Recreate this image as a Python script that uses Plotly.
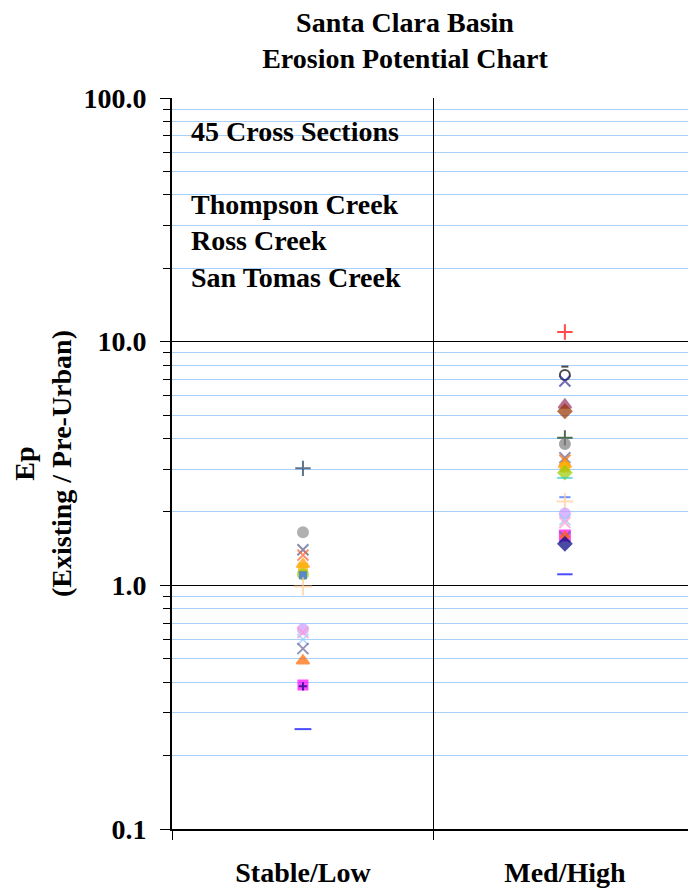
import plotly.graph_objects as go

categories = ["Stable/Low", "Med/High"]

# Stable/Low points (Ep values)
low_values = [3.02, 1.65, 1.40, 1.33, 1.22, 1.18, 1.11, 1.10, 0.99,
              0.66, 0.64, 0.60, 0.55, 0.49, 0.39, 0.385, 0.257]
# Med/High points (Ep values)
high_values = [10.96, 7.9, 7.3, 6.9, 5.5, 5.18, 4.03, 3.8, 3.34, 3.26,
               3.13, 3.05, 2.90, 2.76, 2.30, 2.21, 1.97, 1.86, 1.81,
               1.60, 1.58, 1.60, 1.48, 1.11]

y_tick_vals = [0.1, 1, 10, 100]
y_tick_text = ["0.1", "1.0", "10.0", "100.0"]

title_text = "Santa Clara Basin<br>Erosion Potential Chart"
y_title = "Ep<br>(Existing / Pre-Urban)"
note_text = "45 Cross Sections<br><br>Thompson Creek<br>Ross Creek<br>San Tomas Creek"

# marker styles (one per point)
low_symbols = ["cross-thin", "circle", "x-thin", "x-thin", "triangle-up", "square",
               "circle", "square", "cross-thin", "circle", "x-thin", "x-thin",
               "x-thin", "triangle-up", "square", "cross-thin", "line-ew"]
low_colors = ["#1F3A5F", "#909090", "#5A5A8C", "#FF6020", "#FF9900", "#FFB000",
              "#99CC00", "#3366FF", "#FFCC99", "#CC99FF", "#FF99CC", "#99CCFF",
              "#666699", "#FF6600", "#FF00FF", "#000080", "#0000FF"]
low_sizes = [11, 10, 11, 11, 11, 8, 10, 6, 13, 10, 11, 11, 11, 11, 9, 6, 12]

high_symbols = ["cross-thin", "line-ew", "circle-open", "x-thin", "triangle-up", "diamond",
                "cross-thin", "circle", "x-thin", "x-thin", "triangle-up", "square",
                "diamond", "line-ew", "line-ew", "cross-thin", "circle", "x-thin",
                "x-thin", "square", "x-thin", "triangle-up", "diamond", "line-ew"]
high_colors = ["#FF0000", "#000000", "#000000", "#333399", "#993366", "#993300",
               "#003300", "#808080", "#666699", "#FF6600", "#FF9900", "#FFB000",
               "#99CC00", "#33CCCC", "#3366FF", "#FFCC99", "#CC99FF", "#99CCFF",
               "#FF99CC", "#FF00FF", "#666699", "#FF6600", "#000080", "#0000FF"]
high_sizes = [11, 5, 10, 11, 11, 10, 11, 10, 11, 11, 11, 8,
              10, 11, 8, 12, 10, 11, 11, 10, 11, 8, 10, 11]

FONT = "Liberation Serif, Times New Roman, serif"
FS = 28

fig = go.Figure()
for cat, vals, syms, cols, sizes in [
    (categories[0], low_values, low_symbols, low_colors, low_sizes),
    (categories[1], high_values, high_symbols, high_colors, high_sizes),
]:
    fig.add_trace(go.Scatter(
        x=[cat] * len(vals), y=vals, mode="markers", showlegend=False,
        marker=dict(symbol=syms, color=cols, size=sizes,
                    line=dict(color=cols, width=2)),
    ))

minor_vals = [m * 10.0 ** e for e in (-1, 0, 1) for m in range(2, 10)]

fig.update_layout(
    width=688, height=888,
    margin=dict(l=172, r=0, t=98, b=57),
    paper_bgcolor="white", plot_bgcolor="white",
    font=dict(family=FONT, color="black", size=FS, weight="bold"),
    title=dict(text=title_text, x=405 / 688, xanchor="center",
               y=1 - 32 / 888, yanchor="middle", yref="container",
               font=dict(family=FONT, size=FS, color="black", weight="bold")),
    xaxis=dict(
        type="category", categoryorder="array", categoryarray=categories,
        range=[-0.5, 1.47], tickson="boundaries",
        showgrid=True, gridcolor="black", gridwidth=1,
        ticks="outside", ticklen=9, tickcolor="black", tickwidth=1,
        showline=True, linecolor="black", linewidth=2,
        tickfont=dict(family=FONT, size=FS, color="black", weight="bold"),
        ticklabelstandoff=17, zeroline=False,
    ),
    yaxis=dict(
        type="log", range=[-1, 2],
        tickmode="array", tickvals=y_tick_vals, ticktext=y_tick_text,
        showgrid=True, gridcolor="black", gridwidth=1,
        ticks="outside", ticklen=10, tickcolor="black", tickwidth=1,
        showline=True, linecolor="black", linewidth=2,
        tickfont=dict(family=FONT, size=FS, color="black", weight="bold"),
        ticklabelstandoff=8, zeroline=False,
        minor=dict(tickmode="array", tickvals=minor_vals, showgrid=True,
                   gridcolor="#A8D0F8", gridwidth=1,
                   ticks="outside", ticklen=7, tickcolor="black"),
        title=dict(text=y_title, standoff=4,
                   font=dict(family=FONT, size=FS, color="black", weight="bold")),
    ),
    annotations=[dict(
        text=note_text, xref="paper", yref="paper",
        x=(189 - 172) / 516, y=1 - (114 - 98) / 733,
        xanchor="left", yanchor="top", align="left", showarrow=False,
        font=dict(family=FONT, size=FS, color="black", weight="bold"),
    )],
)

fig.write_html("out.html")
